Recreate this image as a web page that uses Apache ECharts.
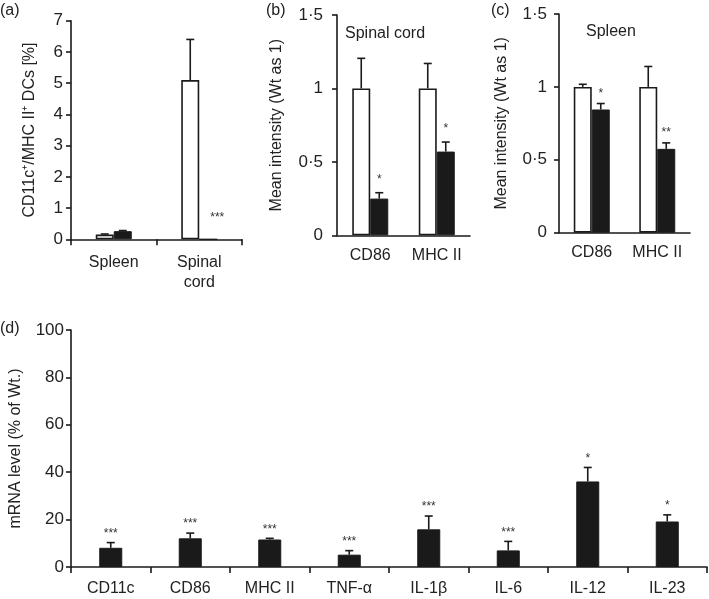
<!DOCTYPE html>
<html>
<head>
<meta charset="utf-8">
<script src="https://cdn.jsdelivr.net/npm/echarts@6/dist/echarts.min.js"></script>
<style>
html,body{margin:0;padding:0;background:#fff;}
#c{width:709px;height:599px;}
</style>
</head>
<body>
<div id="c"></div>
<script>
// ---- Data ----
const aCats = ['Spleen', 'Spinal\ncord'];
const aWt = [0.15, 5.1];
const aWtErr = [0.17, 6.4];
const aKo = [0.26, 0];
const aKoErr = [0.28, 0];
const aKoSig = ['', '***'];

const bCats = ['CD86', 'MHC II'];
const bWt = [1, 1];
const bWtErr = [1.205, 1.17];
const bKo = [0.25, 0.57];
const bKoErr = [0.29, 0.635];
const bKoSig = ['*', '*'];

const cCats = ['CD86', 'MHC II'];
const cWt = [1, 1];
const cWtErr = [1.018, 1.14];
const cKo = [0.845, 0.575];
const cKoErr = [0.886, 0.616];
const cKoSig = ['*', '**'];

const dCats = ['CD11c', 'CD86', 'MHC II', 'TNF-α', 'IL-1β', 'IL-6', 'IL-12', 'IL-23'];
const dVals = [8.1, 12.1, 11.6, 5.2, 15.9, 7.0, 36.1, 19.2];
const dErr = [10.3, 14.3, 12.1, 6.9, 21.5, 10.8, 42.0, 22.0];
const dSig = ['***', '***', '***', '***', '***', '***', '*', '*'];

// ---- Styling ----
const INK = '#1a1a1a';
const TXT = '#222';
const FONT = 'Liberation Sans, Arial, sans-serif';
const FS = 16;
const TFS = 17;

function dotFmt(v) { return String(v).replace('.', '\u00b7'); }

function errSeries(gi, vals, errs, sigs, offset, starOff, capHalf, starDx) {
  return {
    type: 'custom', xAxisIndex: gi, yAxisIndex: gi, z: 5,
    data: vals.map((v, i) => [i, v, errs[i]]),
    renderItem: function (params, api) {
      const i = api.value(0), v = api.value(1), e = api.value(2);
      const p0 = api.coord([i, v]);
      const p1 = api.coord([i, e]);
      const x = p0[0] + offset;
      const ch = [];
      if (e > v) {
        ch.push({ type: 'line', shape: { x1: x, y1: p0[1], x2: x, y2: p1[1] }, style: { stroke: INK, lineWidth: 1.6 } });
        ch.push({ type: 'line', shape: { x1: x - capHalf, y1: p1[1], x2: x + capHalf, y2: p1[1] }, style: { stroke: INK, lineWidth: 1.6 } });
      }
      const s = sigs ? sigs[params.dataIndex] : '';
      if (s) {
        ch.push({ type: 'text', style: { x: x + (starDx || 0), y: p1[1] - starOff, text: s, fill: '#333', font: '12px ' + FONT, textAlign: 'center', textVerticalAlign: 'middle' } });
      }
      return { type: 'group', children: ch };
    }
  };
}

function yAx(gi, min, max, interval, name, nameGap, margin, fmt) {
  return {
    type: 'value', gridIndex: gi, min: min, max: max, interval: interval,
    name: name, nameLocation: 'middle', nameGap: nameGap,
    nameTextStyle: { fontFamily: FONT, fontSize: FS, color: TXT },
    axisLine: { show: true, lineStyle: { color: INK, width: 1.6 } },
    axisTick: { show: true, length: 5, lineStyle: { color: INK, width: 1.6 } },
    axisLabel: { fontFamily: FONT, fontSize: TFS, color: TXT, margin: margin, formatter: fmt },
    splitLine: { show: false }
  };
}

function xAx(gi, cats, ticks, margin) {
  return {
    type: 'category', gridIndex: gi, data: cats,
    axisLine: { show: true, lineStyle: { color: INK, width: 1.6 } },
    axisTick: { show: ticks, length: 6, lineStyle: { color: INK, width: 1.6 } },
    axisLabel: { fontFamily: FONT, fontSize: FS, color: TXT, margin: margin, lineHeight: 20, interval: 0 },
    splitLine: { show: false }
  };
}

const whiteBar = { color: '#fff', borderColor: INK, borderWidth: 1.6 };
const blackBar = { color: INK, borderColor: INK, borderWidth: 1 };

const option = {
  animation: false,
  backgroundColor: '#fff',
  grid: [
    { left: 71, top: 20.7, width: 171, height: 218.6 },
    { left: 337, top: 15, width: 133, height: 220.3 },
    { left: 559, top: 14, width: 131, height: 218.7 },
    { left: 68, top: 330, width: 639, height: 237.3 }
  ],
  xAxis: [
    xAx(0, aCats, true, 13),
    xAx(1, bCats, false, 10),
    xAx(2, cCats, false, 10),
    xAx(3, dCats, true, 12)
  ],
  yAxis: [
    yAx(0, 0, 7, 1, 'CD11c\u207a/MHC II\u207a DCs [%]', 33, 8),
    yAx(1, 0, 1.5, 0.5, 'Mean intensity (Wt as 1)', 52, 14, dotFmt),
    yAx(2, 0, 1.5, 0.5, 'Mean intensity (Wt as 1)', 49, 12, dotFmt),
    yAx(3, 0, 100, 20, 'mRNA level (% of Wt.)', 47, 7)
  ],
  graphic: [
    { type: 'text', left: 0, top: 3, style: { text: '(a)', font: FS + 'px ' + FONT, fill: TXT } },
    { type: 'text', left: 266, top: 3, style: { text: '(b)', font: FS + 'px ' + FONT, fill: TXT } },
    { type: 'text', left: 491, top: 3, style: { text: '(c)', font: FS + 'px ' + FONT, fill: TXT } },
    { type: 'text', left: 0, top: 321, style: { text: '(d)', font: FS + 'px ' + FONT, fill: TXT } },
    { type: 'text', left: 345, top: 26, style: { text: 'Spinal cord', font: FS + 'px ' + FONT, fill: TXT } },
    { type: 'text', left: 586, top: 24, style: { text: 'Spleen', font: FS + 'px ' + FONT, fill: TXT } }
  ],
  series: [
    { type: 'bar', xAxisIndex: 0, yAxisIndex: 0, data: aWt, barWidth: 18, barGap: '0%', itemStyle: whiteBar },
    { type: 'bar', xAxisIndex: 0, yAxisIndex: 0, data: aKo, barWidth: 18, barGap: '0%', itemStyle: blackBar },
    errSeries(0, aWt, aWtErr, null, -9, 10, 4),
    errSeries(0, aKo, aKoErr, aKoSig, 9, 22, 4, 9),

    { type: 'bar', xAxisIndex: 1, yAxisIndex: 1, data: bWt, barWidth: 18, barGap: '0%', itemStyle: whiteBar },
    { type: 'bar', xAxisIndex: 1, yAxisIndex: 1, data: bKo, barWidth: 18, barGap: '0%', itemStyle: blackBar },
    errSeries(1, bWt, bWtErr, null, -9, 10, 4),
    errSeries(1, bKo, bKoErr, bKoSig, 9, 13, 4),

    { type: 'bar', xAxisIndex: 2, yAxisIndex: 2, data: cWt, barWidth: 18, barGap: '0%', itemStyle: whiteBar },
    { type: 'bar', xAxisIndex: 2, yAxisIndex: 2, data: cKo, barWidth: 18, barGap: '0%', itemStyle: blackBar },
    errSeries(2, cWt, cWtErr, null, -9, 10, 4),
    errSeries(2, cKo, cKoErr, cKoSig, 9, 10, 4),

    { type: 'bar', xAxisIndex: 3, yAxisIndex: 3, data: dVals, barWidth: 23, itemStyle: blackBar },
    errSeries(3, dVals, dErr, dSig, 0, 9, 4)
  ]
};

const chart = echarts.init(document.getElementById('c'), null, { renderer: 'canvas' });
chart.setOption(option);
</script>
</body>
</html>
